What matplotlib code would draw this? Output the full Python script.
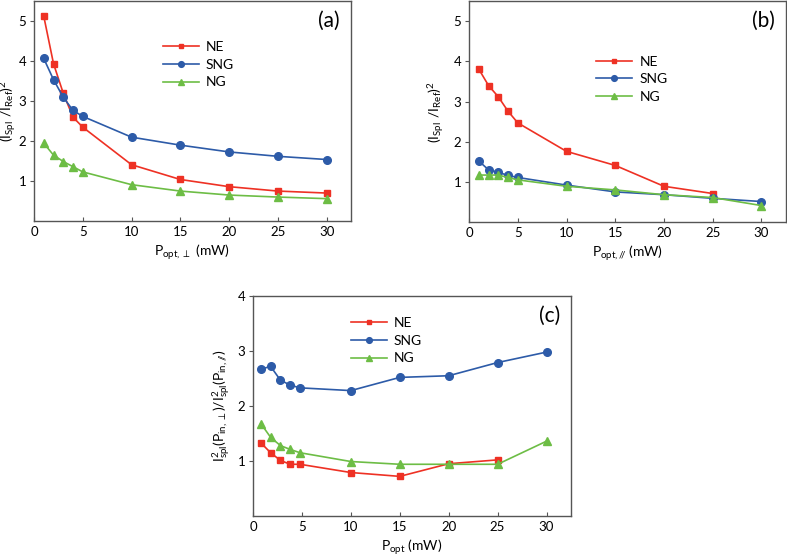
import matplotlib
matplotlib.use('Agg')
import matplotlib.pyplot as plt

# data
p_opt = [1, 2, 3, 4, 5, 10, 15, 20, 25, 30]
p_opt_c = [0.8, 1.8, 2.8, 3.8, 4.8, 10, 15, 20, 25, 30]

# (a) perpendicular
ne_a = [5.13, 3.94, 3.20, 2.60, 2.35, 1.41, 1.04, 0.86, 0.75, 0.70]
sng_a = [4.07, 3.54, 3.10, 2.77, 2.62, 2.10, 1.90, 1.73, 1.62, 1.54]
ng_a = [1.95, 1.65, 1.49, 1.36, 1.23, 0.91, 0.75, 0.65, 0.60, 0.56]

# (b) parallel (NE stops at 25 mW)
ne_b = [3.81, 3.40, 3.12, 2.76, 2.47, 1.76, 1.41, 0.89, 0.71]
sng_b = [1.52, 1.30, 1.24, 1.16, 1.11, 0.92, 0.75, 0.68, 0.59, 0.51]
ng_b = [1.17, 1.17, 1.17, 1.11, 1.05, 0.89, 0.80, 0.68, 0.61, 0.41]

# (c) ratio (NE stops at 25 mW)
ne_c = [1.33, 1.15, 1.01, 0.94, 0.94, 0.79, 0.72, 0.95, 1.02]
sng_c = [2.67, 2.72, 2.47, 2.38, 2.33, 2.28, 2.52, 2.55, 2.79, 2.98]
ng_c = [1.68, 1.43, 1.28, 1.21, 1.15, 0.99, 0.94, 0.94, 0.94, 1.36]

labels = ['NE', 'SNG', 'NG']
colors = ['#ee3124', '#2d5ba8', '#6dbd45']
markers = ['s', 'o', '^']
msizes = [4.8, 5.5, 5.5]

plt.rcParams['font.family'] = ['Lato', 'DejaVu Sans']
plt.rcParams['mathtext.default'] = 'regular'
plt.rcParams['mathtext.fontset'] = 'dejavusans'
plt.rcParams['xtick.direction'] = 'in'
plt.rcParams['ytick.direction'] = 'out'

fig = plt.figure(figsize=(7.87, 5.56), dpi=100)

ax_a = fig.add_axes([0.0432, 0.6025, 0.4028, 0.395])
ax_b = fig.add_axes([0.596, 0.6007, 0.4025, 0.397])
ax_c = fig.add_axes([0.3215, 0.072, 0.404, 0.3956])

panels = [
    (ax_a, [p_opt, p_opt, p_opt], [ne_a, sng_a, ng_a], 5.5, [1, 2, 3, 4, 5],
     r'$P_{opt,\perp}$ (mW)', r'$(I_{Spl}\ /I_{Ref})^2$', '(a)', (0.385, 0.85), -0.046),
    (ax_b, [p_opt[:9], p_opt, p_opt], [ne_b, sng_b, ng_b], 5.5, [1, 2, 3, 4, 5],
     r'$P_{opt,/\!\!/}$ (mW)', r'$(I_{Spl}\ /I_{Ref})^2$', '(b)', (0.38, 0.785), -0.07),
    (ax_c, [p_opt_c[:9], p_opt_c, p_opt_c], [ne_c, sng_c, ng_c], 4, [1, 2, 3, 4],
     r'$P_{opt}$ (mW)', r'$I^2_{spl}(P_{in,\perp})/I^2_{spl}(P_{in,/\!\!/})$', '(c)', (0.286, 0.935), -0.064),
]

for ax, xs, ys, ymax, yticks, xlab, ylab, tag, leg_pos, ylab_x in panels:
    for x, y, lab, c, m, ms in zip(xs, ys, labels, colors, markers, msizes):
        ax.plot(x, y, color=c, marker=m, markersize=ms, linewidth=1.2, label=lab)
    ax.set_xlim(0, 32.5)
    ax.set_ylim(0, ymax)
    ax.set_xticks([0, 5, 10, 15, 20, 25, 30])
    ax.set_yticks(yticks)
    ax.tick_params(labelsize=9.5, length=3, color='#555555')
    ax.tick_params(axis='y', pad=2.5)
    for s in ax.spines.values():
        s.set_color('#555555')
        s.set_linewidth(1.0)
    ax.set_xlabel(xlab, fontsize=10, labelpad=3)
    ax.set_ylabel(ylab, fontsize=10)
    ax.yaxis.set_label_coords(ylab_x, 0.5)
    ax.text(0.965, 0.955, tag, transform=ax.transAxes, ha='right', va='top', fontsize=15)
    ax.legend(loc='upper left', bbox_to_anchor=leg_pos, frameon=False, fontsize=10,
              handlelength=2.6, handletextpad=0.5, labelspacing=0.4, borderpad=0,
              markerscale=0.75)

fig.savefig('out.png', dpi=100)
